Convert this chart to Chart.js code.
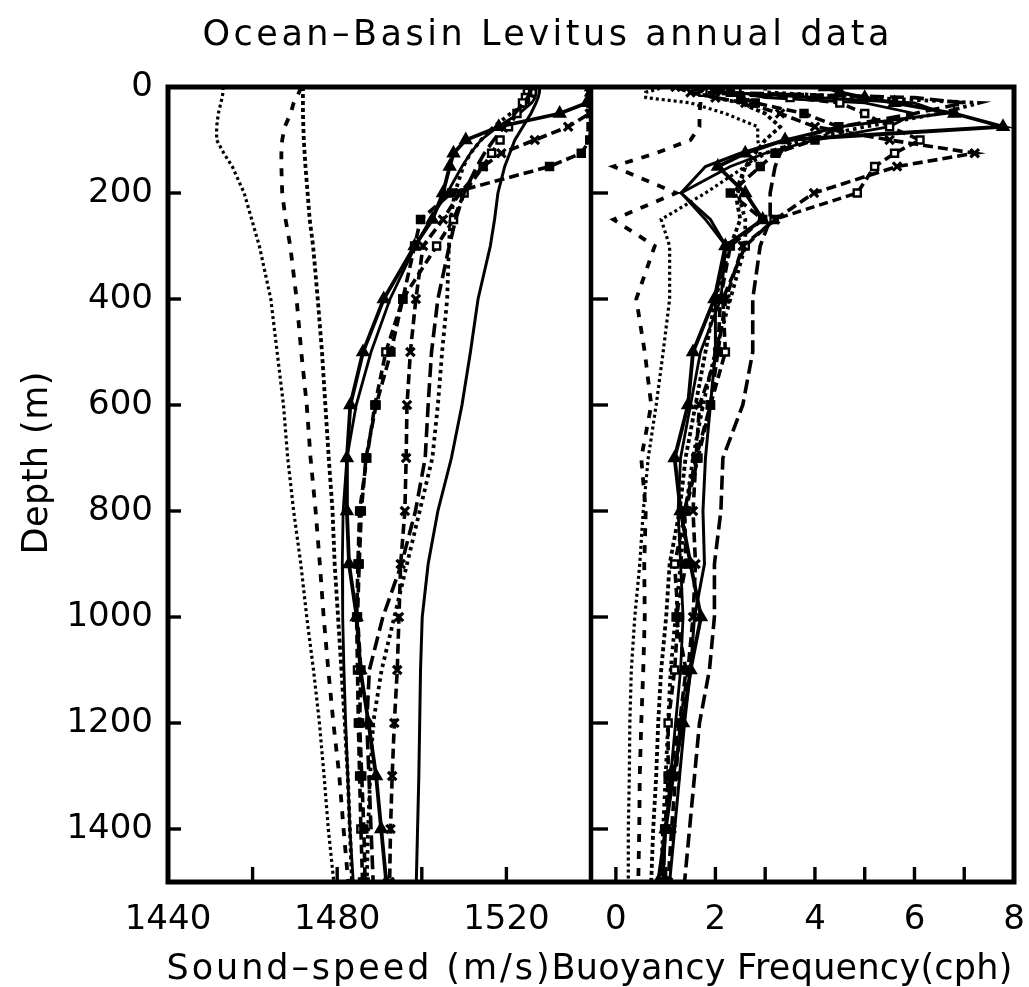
<!DOCTYPE html>
<html>
<head>
<meta charset="utf-8">
<script src="https://cdn.jsdelivr.net/npm/chart.js@4.4.1/dist/chart.umd.min.js"></script>
<style>
html,body{margin:0;padding:0;background:#fff;}
#wrap{width:1029px;height:987px;}
</style>
</head>
<body>
<div id="wrap"><canvas id="c" width="1029" height="987"></canvas></div>
<script>
// ---------- data ----------
const DEPTHS = [0,10,20,30,50,75,100,125,150,200,250,300,400,500,600,700,800,900,1000,1100,1200,1300,1400,1500];

// sound speed (m/s)
const SPEED_1  = [1453.0,1453.0,1452.8,1452.5,1451.9,1451.5,1451.5,1453.2,1455.2,1458.0,1459.8,1461.6,1464.3,1465.8,1467.3,1468.3,1469.7,1471.4,1472.8,1474.4,1475.8,1476.9,1477.9,1479.2];
const SPEED_2  = [1471.5,1471.0,1470.3,1469.7,1469.0,1467.6,1467.0,1466.8,1466.8,1467.0,1467.8,1468.9,1470.4,1471.5,1472.8,1473.7,1474.9,1475.9,1476.8,1477.9,1479.1,1480.5,1481.5,1482.6];
const SPEED_3  = [1471.9,1471.9,1471.9,1471.9,1471.9,1472.0,1472.1,1472.3,1472.5,1473.0,1473.5,1474.3,1475.4,1476.4,1477.2,1478.0,1478.9,1479.4,1480.2,1481.0,1481.8,1482.5,1483.0,1483.5];
const SPEED_4  = [1527.9,1527.8,1527.5,1527.0,1525.8,1523.9,1522.0,1520.8,1519.6,1518.0,1517.2,1516.2,1513.3,1511.5,1509.5,1507.0,1503.8,1501.5,1500.1,1499.7,1499.5,1499.3,1499.0,1498.7];
const SPEED_5  = [1540.0,1540.0,1539.8,1539.0,1532.6,1518.2,1510.4,1507.5,1506.6,1505.0,1502.5,1498.3,1491.0,1486.1,1483.1,1482.3,1482.3,1482.8,1484.6,1485.5,1487.4,1489.2,1490.4,1491.6];
const SPEED_6  = [1540.0,1540.0,1540.0,1540.0,1539.7,1534.6,1526.7,1518.8,1514.5,1509.0,1505.0,1500.3,1498.6,1497.3,1496.5,1496.3,1496.0,1495.0,1494.6,1494.2,1493.5,1493.0,1492.6,1492.4];
const SPEED_7  = [1525.5,1525.5,1525.0,1524.0,1522.0,1519.5,1517.0,1514.8,1513.0,1510.0,1508.0,1506.5,1503.8,1502.3,1501.5,1500.8,1498.5,1495.2,1490.8,1487.6,1487.0,1487.5,1488.0,1488.5];
const SPEED_8  = [1540.0,1540.0,1540.0,1540.0,1540.0,1540.0,1539.7,1537.7,1530.2,1507.0,1499.7,1498.3,1495.5,1492.7,1489.2,1486.8,1485.7,1485.2,1484.8,1485.6,1485.3,1485.8,1486.3,1486.6];
const SPEED_9  = [1525.0,1525.0,1524.5,1523.8,1522.5,1520.5,1518.5,1516.5,1514.5,1510.0,1507.5,1503.5,1495.5,1491.5,1488.9,1487.0,1485.3,1484.9,1484.6,1484.8,1485.0,1485.3,1485.6,1486.0];
const SPEED_10 = [1527.0,1527.0,1526.8,1526.0,1523.0,1518.0,1514.0,1511.5,1509.5,1506.0,1502.0,1498.5,1492.5,1488.0,1484.5,1482.3,1481.4,1481.2,1481.3,1481.6,1482.0,1482.5,1483.0,1483.8];
const SPEED_11 = [1526.5,1526.5,1526.0,1525.0,1521.0,1517.0,1514.0,1511.5,1509.8,1507.8,1506.8,1506.4,1506.0,1504.8,1503.8,1502.5,1499.5,1496.5,1493.5,1490.5,1488.5,1487.8,1487.3,1487.0];

// buoyancy frequency (cph)
const BV_1  = [1.0,0.6,0.6,1.5,2.2,2.85,2.85,2.9,2.6,1.8,0.91,1.08,1.08,0.95,0.81,0.65,0.55,0.48,0.38,0.31,0.28,0.27,0.25,0.25];
const BV_2  = [1.8,1.7,1.7,1.7,1.68,1.68,1.5,0.8,-0.05,1.21,-0.05,0.78,0.41,0.58,0.71,0.51,0.6,0.57,0.58,0.55,0.51,0.48,0.47,0.45];
const BV_3  = [1.2,1.5,2.0,2.5,3.0,3.3,3.0,2.8,2.6,2.4,2.5,2.3,2.0,1.8,1.6,1.4,1.28,1.08,1.01,0.91,0.85,0.81,0.75,0.71];
const BV_4  = [1.8,2.2,4.0,6.0,6.6,4.5,3.4,2.5,1.8,1.31,1.9,2.21,2.0,2.0,1.9,1.8,1.75,1.78,1.58,1.5,1.38,1.28,1.18,1.08];
const BV_5  = [4.2,4.5,5.0,5.6,6.8,7.78,3.4,2.6,2.05,2.6,2.95,2.2,1.98,1.55,1.45,1.18,1.3,1.5,1.71,1.5,1.35,1.15,1.0,0.85];
const BV_6  = [1.2,1.5,2.0,2.6,3.3,4.0,5.5,7.21,5.65,3.98,3.2,2.55,2.21,2.05,1.68,1.61,1.55,1.6,1.55,1.45,1.3,1.2,1.12,1.05];
const BV_7  = [1.5,2.0,6.0,7.0,6.0,4.5,3.5,3.3,3.2,3.1,3.1,2.9,2.75,2.75,2.55,2.15,2.11,1.98,1.98,1.88,1.68,1.58,1.48,1.38];
const BV_8  = [2.0,2.3,2.51,2.8,3.78,4.48,4.0,3.2,2.9,2.3,2.95,2.3,2.1,2.05,1.9,1.61,1.38,1.41,1.21,1.41,1.28,1.08,0.98,0.95];
const BV_9  = [1.6,1.75,3.5,4.5,5.0,5.5,6.11,5.6,5.2,4.85,3.18,2.6,2.15,2.2,1.9,1.65,1.4,1.18,1.25,1.18,1.05,1.05,1.0,0.9];
const BV_10 = [2.5,2.5,3.0,5.0,6.0,5.5,4.0,3.0,2.3,1.31,1.8,2.21,2.11,1.7,1.5,1.3,1.25,1.3,1.35,1.3,1.2,1.1,1.0,0.95];
const BV_11 = [3.0,3.0,5.0,7.3,6.5,5.0,3.8,3.0,2.6,2.45,2.6,2.6,2.3,2.0,1.75,1.55,1.4,1.3,1.2,1.1,1.05,1.0,0.95,0.9];

// ticks and labels
const DEPTH_TICKS = [0,200,400,600,800,1000,1200,1400];
const SPEED_TICKS = [1440,1460,1480,1500,1520,1540];
const SPEED_LABELS = [1440,1480,1520];
const BV_TICKS = [0,1,2,3,4,5,6,7,8];
const BV_LABELS = [0,2,4,6,8];

// texts
const TITLE = 'Ocean–Basin Levitus annual data';
const X1_TITLE = 'Sound–speed (m/s)';
const X2_TITLE = 'Buoyancy Frequency(cph)';
const Y_TITLE = 'Depth (m)';

// ---------- styles ----------
const STYLES = [
  {dash:[3,3], width:3.2},                          // 1 fine dotted
  {dash:[8,9], width:3.8},                          // 2 sparse dashes
  {dash:[4,3], width:3.8},                          // 3 dense dotted
  {dash:[], width:3.0},                             // 4 solid
  {dash:[], width:3.8, point:'triangle', r:6},      // 5 solid + triangles
  {dash:[10,5], width:3.6, point:'crossRot', r:6},  // 6 dashed + x
  {dash:[14,6], width:3.6},                         // 7 long dash
  {dash:[10,5], width:3.6, point:'rect', r:5},      // 8 dashed + filled squares
  {dash:[9,5], width:3.6, point:'rect', r:5, open:true}, // 9 dashed + open squares
  {dash:[], width:2.8},                             // 10 solid thin
  {dash:[3.5,4], width:3.8}                         // 11 dotted
];

const SPEEDS = [SPEED_1,SPEED_2,SPEED_3,SPEED_4,SPEED_5,SPEED_6,SPEED_7,SPEED_8,SPEED_9,SPEED_10,SPEED_11];
const BVS = [BV_1,BV_2,BV_3,BV_4,BV_5,BV_6,BV_7,BV_8,BV_9,BV_10,BV_11];

function makeDataset(vals, st, axisId, idx) {
  return {
    label: (axisId === 'xL' ? 'Sound-speed ' : 'Buoyancy ') + (idx + 1),
    xAxisID: axisId, yAxisID: 'y',
    data: vals.map((v, i) => ({x: v, y: DEPTHS[i]})),
    fill: false,
    borderColor: '#000',
    backgroundColor: '#000',
    borderWidth: st.width,
    borderDash: st.dash,
    borderCapStyle: 'butt',
    borderJoinStyle: 'miter',
    tension: 0,
    pointStyle: st.point || 'circle',
    pointRadius: st.point ? st.r : 0,
    pointHoverRadius: st.point ? st.r : 0,
    pointBackgroundColor: st.open ? '#fff' : '#000',
    pointBorderColor: '#000',
    pointBorderWidth: st.point === 'crossRot' ? 3.2 : 2.4
  };
}

const datasets = [];
SPEEDS.forEach((s, i) => datasets.push(makeDataset(s, STYLES[i], 'xL', i)));
BVS.forEach((b, i) => datasets.push(makeDataset(b, STYLES[i], 'xR', i)));

const FONT = '"DejaVu Sans", "Liberation Sans", sans-serif';

function drawFitted(ctx, text, x, y, targetW, size, rot) {
  ctx.save();
  ctx.font = size + 'px ' + FONT;
  ctx.letterSpacing = '0px';
  const w0 = ctx.measureText(text).width;
  const n = Array.from(text).length;
  const ls = Math.max(0, (targetW - w0) / (n - 1));
  ctx.letterSpacing = ls.toFixed(2) + 'px';
  ctx.translate(x, y);
  if (rot) ctx.rotate(rot);
  ctx.fillStyle = '#000';
  ctx.textAlign = 'left';
  ctx.textBaseline = 'alphabetic';
  ctx.fillText(text, -(w0 + ls * (n - 1)) / 2, 0);
  ctx.restore();
}

const framePlugin = {
  id: 'frameTicks',
  afterDraw(chart) {
    const {ctx, chartArea: a, scales} = chart;
    const div = scales.xR.left;
    ctx.save();
    ctx.strokeStyle = '#000';
    ctx.lineCap = 'butt';
    ctx.setLineDash([]);
    const seg = (x1, y1, x2, y2) => { ctx.beginPath(); ctx.moveTo(x1, y1); ctx.lineTo(x2, y2); ctx.stroke(); };
    // ticks
    ctx.lineWidth = 3.4;
    scales.y.ticks.forEach(t => {
      if (t.value <= 0) return;
      const y = scales.y.getPixelForValue(t.value);
      seg(a.left, y, a.left + 13, y);
      seg(div, y, div + 17, y);
    });
    ['xL', 'xR'].forEach(id => {
      const s = scales[id];
      s.ticks.forEach(t => {
        const x = s.getPixelForValue(t.value);
        if (x <= a.left + 2 || x >= a.right - 2 || Math.abs(x - div) < 2) return;
        seg(x, a.bottom, x, a.bottom - 15);
      });
    });
    // frame
    ctx.lineWidth = 5;
    ctx.strokeRect(a.left, a.top, a.right - a.left, a.bottom - a.top);
    ctx.lineWidth = 4.5;
    seg(div, a.top, div, a.bottom);
    // titles
    drawFitted(ctx, TITLE, 546, 45, 687, 35, 0);
    drawFitted(ctx, X1_TITLE, 358, 979, 383, 35, 0);
    drawFitted(ctx, X2_TITLE, 782, 979, 461, 35, 0);
    drawFitted(ctx, Y_TITLE, 47, 463, 183, 35, -Math.PI / 2);
    ctx.restore();
  }
};

Chart.defaults.font.family = FONT;
Chart.defaults.color = '#000';

const tickFont = {size: 34, family: FONT};

new Chart(document.getElementById('c'), {
  type: 'line',
  data: {datasets},
  options: {
    responsive: false,
    devicePixelRatio: 1,
    animation: false,
    events: [],
    parsing: {xAxisKey: 'x', yAxisKey: 'y'},
    layout: {padding: {top: 87, left: 0, right: 15, bottom: 0}},
    plugins: {legend: {display: false}, tooltip: {enabled: false}, title: {display: false}},
    scales: {
      y: {
        type: 'linear', axis: 'y', position: 'left', reverse: true,
        min: 0, max: 1500,
        grid: {display: false, drawTicks: false}, border: {display: false},
        afterBuildTicks: s => { s.ticks = DEPTH_TICKS.map(v => ({value: v})); },
        ticks: {font: tickFont, padding: 15, autoSkip: false, callback: v => String(v)},
        afterFit: s => { s.width = 168; s.paddingTop = 0; s.paddingBottom = 0; }
      },
      xL: {
        type: 'linear', axis: 'x', position: 'bottom', stack: 'xs', stackWeight: 1,
        min: 1440, max: 1540,
        grid: {display: false, drawTicks: false}, border: {display: false},
        afterBuildTicks: s => { s.ticks = SPEED_TICKS.map(v => ({value: v})); },
        ticks: {font: tickFont, padding: 18, autoSkip: false, maxRotation: 0, minRotation: 0,
                callback: v => SPEED_LABELS.includes(v) ? String(v) : ''},
        afterFit: s => { s.height = 105; s.paddingLeft = 0; s.paddingRight = 0; }
      },
      xR: {
        type: 'linear', axis: 'x', position: 'bottom', stack: 'xs', stackWeight: 1,
        min: -0.5, max: 8,
        grid: {display: false, drawTicks: false}, border: {display: false},
        afterBuildTicks: s => { s.ticks = BV_TICKS.map(v => ({value: v})); },
        ticks: {font: tickFont, padding: 18, autoSkip: false, maxRotation: 0, minRotation: 0,
                callback: v => BV_LABELS.includes(v) ? String(v) : ''},
        afterFit: s => { s.height = 105; s.paddingLeft = 0; s.paddingRight = 0; }
      }
    }
  },
  plugins: [framePlugin]
});
</script>
</body>
</html>
